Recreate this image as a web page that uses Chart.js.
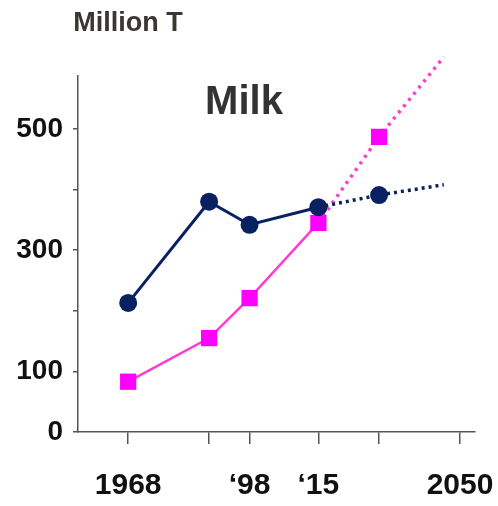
<!DOCTYPE html>
<html>
<head>
<meta charset="utf-8">
<script src="https://cdn.jsdelivr.net/npm/chart.js@4/dist/chart.umd.min.js"></script>
<style>
  html, body { margin: 0; padding: 0; background: #fff; }
  #wrap { width: 498px; height: 506px; }
</style>
</head>
<body>
<div id="wrap"><canvas id="c" width="498" height="506"></canvas></div>
<script>
// Milk production, million tonnes
const years        = [1968, 1988, 1998, 2015];
const projYears    = [2015, 2030, 2046];
const consumption  = [213, 380, 342, 371];      // navy circles
const consumptionP = [371, 391, 408];           // navy dotted projection
const production   = [83, 155, 221, 345];       // magenta squares
const productionP  = [345, 487, 619];           // magenta dotted projection

const xTicks = [1968, 1988, 1998, 2015, 2030, 2050];
const xLabels = { 1968: '1968', 1998: '\u201898', 2015: '\u201815', 2050: '2050' };
const yTicks = [0, 100, 200, 300, 400, 500];
const yLabels = { 0: '0', 100: '100', 300: '300', 500: '500' };

const NAVY = '#0a2161';
const PINK_LINE = '#ff3ccf';
const PINK_MARK = '#ff00ff';
const FONT = "'Liberation Sans', Arial, sans-serif";

const pts = (xs, ys) => xs.map((x, i) => ({ x, y: ys[i] }));

const textPlugin = {
  id: 'labels',
  afterDraw(chart) {
    const ctx = chart.ctx;
    ctx.save();
    ctx.textAlign = 'center';
    ctx.textBaseline = 'middle';
    ctx.fillStyle = '#3a3630';
    ctx.font = 'bold 27px ' + FONT;
    ctx.fillText('Million T', 128, 24);
    ctx.fillStyle = '#333333';
    ctx.font = 'bold 40px ' + FONT;
    ctx.fillText('Milk', 244, 103);
    ctx.restore();
  }
};

new Chart(document.getElementById('c'), {
  type: 'line',
  data: {
    datasets: [
      {
        data: pts(years, consumption),
        borderColor: NAVY, backgroundColor: NAVY, borderWidth: 3,
        pointStyle: 'circle', pointRadius: 9, pointBorderWidth: 0,
        pointBackgroundColor: NAVY
      },
      {
        data: pts(projYears, consumptionP),
        borderColor: NAVY, borderWidth: 3.5, borderDash: [3, 4],
        pointStyle: 'circle', pointRadius: [0, 9, 0], pointBorderWidth: 0,
        pointBackgroundColor: NAVY
      },
      {
        data: pts(years, production),
        borderColor: PINK_LINE, borderWidth: 2.5,
        pointStyle: 'rect', pointRadius: 11.5, pointBorderWidth: 0,
        pointBackgroundColor: PINK_MARK
      },
      {
        data: pts(projYears, productionP),
        borderColor: PINK_LINE, borderWidth: 3.5, borderDash: [3, 5],
        pointStyle: 'rect', pointRadius: [0, 11.5, 0], pointBorderWidth: 0,
        pointBackgroundColor: PINK_MARK,
        clip: false
      }
    ]
  },
  options: {
    responsive: false,
    animation: false,
    events: [],
    layout: { padding: { top: 76, right: 23, left: 0, bottom: 0 } },
    plugins: { legend: { display: false }, tooltip: { enabled: false } },
    elements: { line: { tension: 0 } },
    scales: {
      x: {
        type: 'linear',
        min: 1955.6, max: 2053.7,
        afterBuildTicks: s => { s.ticks = xTicks.map(v => ({ value: v })); },
        afterFit: s => { s.height = 74; s.paddingLeft = 0; s.paddingRight = 0; },
        grid: { drawOnChartArea: false, drawTicks: true, tickLength: 12, color: '#555', lineWidth: 1.5 },
        border: { display: true, color: '#555', width: 1.5 },
        ticks: {
          padding: 24, maxRotation: 0, autoSkip: false,
          color: '#111', font: { family: FONT, size: 30, weight: 'bold' },
          callback: v => xLabels[v] || ''
        }
      },
      y: {
        min: 0, max: 587.5,
        afterBuildTicks: s => { s.ticks = yTicks.map(v => ({ value: v })); },
        afterFit: s => { s.width = 78; s.paddingTop = 0; s.paddingBottom = 0; },
        grid: { drawOnChartArea: false, drawTicks: true, tickLength: 5, color: '#555', lineWidth: 1.5 },
        border: { display: true, color: '#555', width: 1.5 },
        ticks: {
          padding: 10,
          color: '#111', font: { family: FONT, size: 28, weight: 'bold' },
          callback: v => yLabels[v] || ''
        }
      }
    }
  },
  plugins: [textPlugin]
});
</script>
</body>
</html>
